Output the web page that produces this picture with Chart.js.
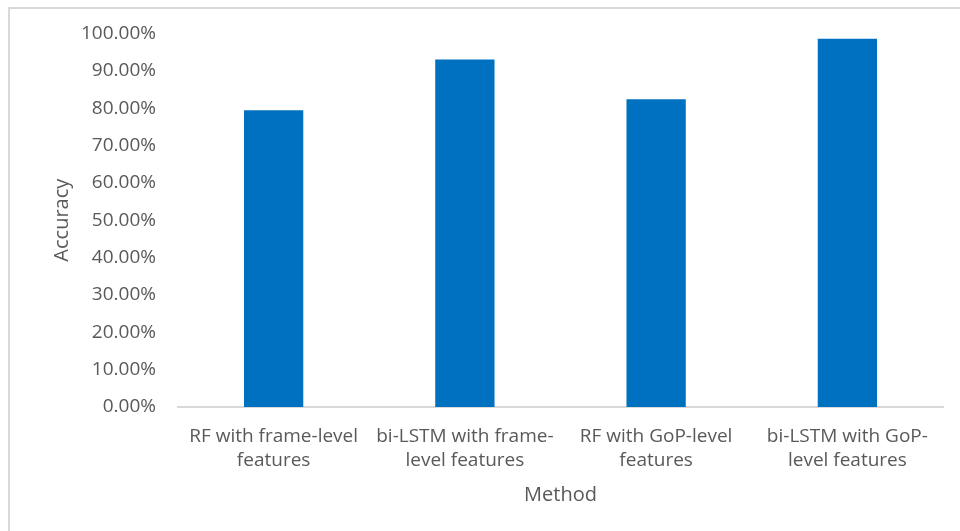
<!DOCTYPE html>
<html>
<head>
<meta charset="utf-8">
<script src="https://cdn.jsdelivr.net/npm/chart.js@4.4.0/dist/chart.umd.min.js"></script>
<style>
  html, body { margin: 0; padding: 0; background: #fff; }
  #frame { position: absolute; left: 8px; top: 7px; width: 1000px; height: 600px; border: 2px solid #d9d9d9; box-sizing: border-box; }
  #wrap { position: absolute; left: 0; top: 0; width: 960px; height: 531px; }
</style>
</head>
<body>
<div id="frame"></div>
<div id="wrap"><canvas id="c" width="960" height="531"></canvas></div>
<script>
const categories = [
  ["RF with frame-level", "features"],
  ["bi-LSTM with frame-", "level features"],
  ["RF with GoP-level", "features"],
  ["bi-LSTM with GoP-", "level features"]
];
const accuracy = [79.4, 93.0, 82.4, 98.6];
const yTicks = [0, 10, 20, 30, 40, 50, 60, 70, 80, 90, 100];
const yTitle = "Accuracy";
const xTitle = "Method";

const FONT = "'Open Sans', sans-serif";
const GREY = "#595959";

new Chart(document.getElementById('c'), {
  type: 'bar',
  data: {
    labels: categories,
    datasets: [{
      data: accuracy,
      backgroundColor: '#0070C0',
      borderWidth: 0,
      barPercentage: 0.31,
      categoryPercentage: 1.0
    }]
  },
  options: {
    responsive: false,
    animation: false,
    layout: { padding: { left: 0, right: 17, top: 27, bottom: 24 } },
    plugins: { legend: { display: false }, tooltip: { enabled: false } },
    scales: {
      y: {
        min: 0, max: 100,
        afterBuildTicks: (s) => { s.ticks = yTicks.map(v => ({ value: v })); },
        afterFit: (s) => { s.width = 178; },
        grid: { display: false, drawTicks: false },
        border: { display: false },
        ticks: {
          padding: 22,
          color: GREY,
          font: { family: FONT, size: 19 },
          callback: (v) => v.toFixed(2) + '%'
        },
        title: {
          display: true, text: yTitle, color: GREY,
          font: { family: FONT, size: 20 },
          padding: { top: 50, bottom: 0 }
        }
      },
      x: {
        grid: { display: false, drawTicks: false },
        border: { display: true, color: '#d9d9d9', width: 2 },
        afterFit: (s) => { s.height = 100; },
        ticks: {
          padding: 18,
          color: GREY,
          maxRotation: 0,
          autoSkip: false,
          font: { family: FONT, size: 19, lineHeight: 1.26 }
        },
        title: {
          display: true, text: xTitle, color: GREY,
          font: { family: FONT, size: 20 },
          padding: { top: 4, bottom: 0 }
        }
      }
    }
  }
});
</script>
</body>
</html>
